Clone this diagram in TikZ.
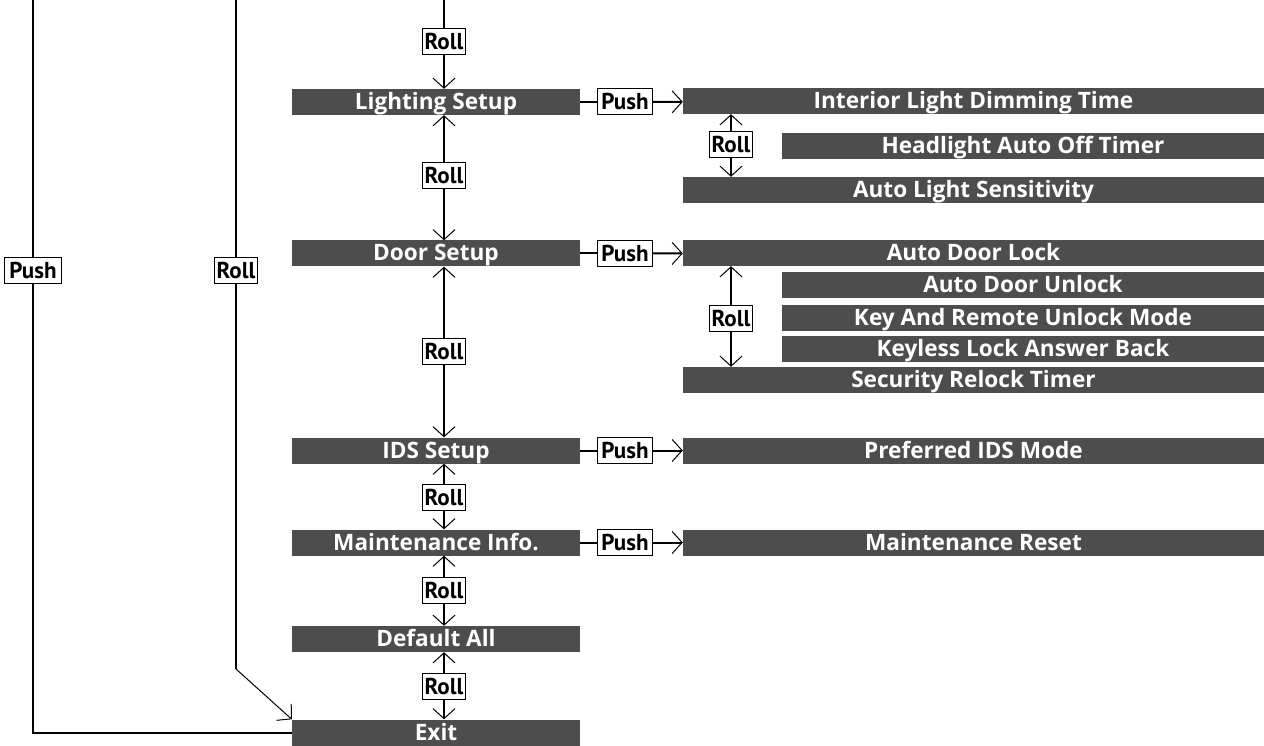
\documentclass[tikz,border=0pt]{standalone}
\usepackage{fontspec}
\setmainfont{Open Sans}
\newfontfamily\keyfont{PT Sans}
\usetikzlibrary{positioning, arrows.meta}
\definecolor{bargray}{HTML}{4D4D4D}

\tikzset{
  menubar/.style={fill=bargray, text=white, inner sep=0pt, minimum height=26pt,
    font=\bfseries\fontsize{22.6}{25}\selectfont, text height=17pt, text depth=2pt},
  mainbar/.style={menubar, minimum width=288pt},
  subbar/.style={menubar, minimum width=581pt},
  shortbar/.style={menubar, minimum width=482pt},
  keybox/.style={draw, fill=white, line width=1pt, inner sep=0pt, minimum height=26pt,
    font=\keyfont\bfseries\fontsize{23}{26}\selectfont, text height=17pt, text depth=1pt},
  rollbox/.style={keybox, minimum width=43pt},
  pushbox/.style={keybox, minimum width=55pt},
  wire/.style={line width=2pt},
  flow/.style={wire, -{Straight Barb[length=10pt, width=22pt, line width=1pt]}},
}

\begin{document}
\begin{tikzpicture}[x=1pt, y=-1pt]
  \useasboundingbox (0,0) rectangle (1264,746);

  % main menu column
  \node[mainbar] (lighting) at (436,102)   {Lighting Setup};
  \node[mainbar] (door)     at (436,253.5) {Door Setup};
  \node[mainbar] (ids)      at (436,450.5) {IDS Setup};
  \node[mainbar] (maint)    at (436,542.5) {Maintenance Info.};
  \node[mainbar] (default)  at (436,639)   {Default All};
  \node[mainbar] (exit)     at (436,732.5) {Exit};

  % sub menus
  \node[subbar]   (dimming)     at (973.5,101) {Interior Light Dimming Time};
  \node[shortbar] (headlight)   at (1023,146)  {Headlight Auto Off Timer};
  \node[subbar]   (sensitivity) at (973.5,190) {Auto Light Sensitivity};
  \node[subbar]   (doorlock)    at (973.5,253) {Auto Door Lock};
  \node[shortbar] (doorunlock)  at (1023,285)  {Auto Door Unlock};
  \node[shortbar] (remote)      at (1023,318)  {Key And Remote Unlock Mode};
  \node[shortbar] (answer)      at (1023,349)  {Keyless Lock Answer Back};
  \node[subbar]   (relock)      at (973.5,380) {Security Relock Timer};
  \node[subbar]   (idsmode)     at (973.5,450.5) {Preferred IDS Mode};
  \node[subbar]   (reset)       at (973.5,542.5) {Maintenance Reset};

  % roll keys
  \node[rollbox] (roll0) at (444,41.5) {Roll};
  \node[rollbox] (roll1) at (444,176)  {Roll};
  \node[rollbox] (roll2) at (444,351)  {Roll};
  \node[rollbox] (roll3) at (444,497)  {Roll};
  \node[rollbox] (roll4) at (444,590)  {Roll};
  \node[rollbox] (roll5) at (444,686)  {Roll};
  \node[rollbox] (rolllight) at (731,145)   {Roll};
  \node[rollbox] (rolldoor)  at (731,318.5) {Roll};
  \node[rollbox] (rollall)   at (236,270.5) {Roll};

  % push keys
  \node[pushbox] (push1) at (625,102)   {Push};
  \node[pushbox] (push2) at (625,253.5) {Push};
  \node[pushbox] (push3) at (625,450.5) {Push};
  \node[pushbox] (push4) at (625,542.5) {Push};
  \node[pushbox, minimum width=57pt] (pushall) at (33,270.5) {Push};

  \coordinate (ctop) at (444,0);
  \coordinate (ptop) at (33,0);
  \coordinate (rtop) at (236,0);
  \coordinate (rbend) at (236,669);

  % connectors
  \draw[wire] (ctop) -- (roll0);
  \draw[flow] (roll0) -- (roll0 |- lighting.north);
  \foreach \upper/\r/\lower in {lighting/roll1/door, door/roll2/ids, ids/roll3/maint,
      maint/roll4/default, default/roll5/exit} {
    \draw[flow] (\r) -- (\r |- \upper.south);
    \draw[flow] (\r) -- (\r |- \lower.north);
  }
  \foreach \m/\p/\s in {lighting/push1/dimming, door/push2/doorlock,
      ids/push3/idsmode, maint/push4/reset} {
    \draw[wire] (\m.east) -- (\p);
    \draw[flow] (\p) -- (\s);
  }
  \draw[flow] (rolllight) -- (rolllight |- dimming.south);
  \draw[flow] (rolllight) -- (rolllight |- sensitivity.north);
  \draw[flow] (rolldoor) -- (rolldoor |- doorlock.south);
  \draw[flow] (rolldoor) -- (rolldoor |- relock.north);

  \draw[wire] (ptop) -- (pushall);
  \draw[wire] (pushall) |- (exit.west);
  \draw[wire] (rtop) -- (rollall);
  \draw[wire] (rollall) -- (rbend);
  \draw[flow, line width=1pt] (rbend) -- (exit.north west);
\end{tikzpicture}
\end{document}
